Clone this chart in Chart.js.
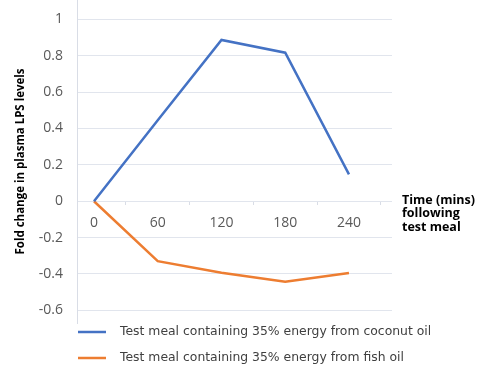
<!DOCTYPE html>
<html><head><meta charset="utf-8">
<script src="https://cdn.jsdelivr.net/npm/chart.js@4"></script>
<style>html,body{margin:0;padding:0;background:#fff}#wrap{width:483px;height:365px;position:relative}</style>
</head><body><div id="wrap"><canvas id="c" width="483" height="365"></canvas></div>
<script>
const timePoints = [0, 60, 120, 180, 240];
const coconutOil = [0, 0.445, 0.887, 0.817, 0.148];
const fishOil = [0, -0.33, -0.393, -0.443, -0.395];
const seriesLabels = ['Test meal containing 35% energy from coconut oil', 'Test meal containing 35% energy from fish oil'];
const yTicks = [-0.6, -0.4, -0.2, 0, 0.2, 0.4, 0.6, 0.8, 1];
const xTicks = [0, 60, 120, 180, 240];
const xMinorTicks = [30, 90, 150, 210, 270];
const yTitle = 'Fold change in plasma LPS levels';
const xTitleLines = ['Time (mins)', 'following', 'test meal'];

const BLUE = '#4472C4', ORANGE = '#ED7D31';
const FONT = "'Open Sans', sans-serif";

const extras = {
  id: 'extras',
  afterDraw(chart) {
    const ctx = chart.ctx, ca = chart.chartArea;
    ctx.save();
    ctx.fillStyle = '#000';
    ctx.font = "bold 12.5px " + FONT;
    ctx.textAlign = 'left'; ctx.textBaseline = 'middle';
    const y0 = chart.scales.y.getPixelForValue(0);
    xTitleLines.forEach((t, i) => ctx.fillText(t, 402, y0 - 1 + i * 13.5));
    ctx.font = "12.4px 'DejaVu Sans', sans-serif";
    ctx.fillStyle = '#404040';
    [[BLUE, 332], [ORANGE, 358]].forEach(([col, y], i) => {
      ctx.strokeStyle = col; ctx.lineWidth = 2.5;
      ctx.beginPath(); ctx.moveTo(ca.left + 1, y); ctx.lineTo(ca.left + 29, y); ctx.stroke();
      ctx.fillText(seriesLabels[i], ca.left + 43, y);
    });
    ctx.restore();
  }
};

new Chart(document.getElementById('c'), {
  type: 'line',
  data: {
    datasets: [
      { label: seriesLabels[0], data: timePoints.map((t, i) => ({x: t, y: coconutOil[i]})), borderColor: BLUE, borderWidth: 2.5, pointRadius: 0, tension: 0, fill: false },
      { label: seriesLabels[1], data: timePoints.map((t, i) => ({x: t, y: fishOil[i]})), borderColor: ORANGE, borderWidth: 2.5, pointRadius: 0, tension: 0, fill: false }
    ]
  },
  options: {
    responsive: false, animation: false,
    layout: { padding: { top: 0, right: 91, bottom: 42, left: 0 } },
    plugins: { legend: { display: false }, tooltip: { enabled: false } },
    scales: {
      x: {
        type: 'linear', min: -16, max: 280.5,
        position: { y: 0 },
        afterBuildTicks: s => { s.ticks = xTicks.concat(xMinorTicks).sort((a,b)=>a-b).map(v => ({ value: v })); },
        afterFit: s => { s.paddingLeft = 0; s.paddingRight = 0; },
        ticks: {
          autoSkip: false, maxRotation: 0, padding: 9, color: '#595959',
          font: { family: FONT, size: 14 },
          callback: v => xTicks.includes(v) ? String(v) : ''
        },
        grid: {
          drawOnChartArea: false, drawTicks: true, tickLength: 4,
          tickColor: c => (c.tick && xMinorTicks.includes(c.tick.value)) ? '#d9dde6' : 'rgba(0,0,0,0)'
        },
        border: { display: false }
      },
      y: {
        type: 'linear', min: -0.67, max: 1.107,
        afterBuildTicks: s => { s.ticks = yTicks.map(v => ({ value: v })); },
        afterFit: s => { s.width = 77; s.paddingTop = 0; s.paddingBottom = 0; },
        ticks: { color: '#595959', font: { family: FONT, size: 14 }, padding: 14, callback: v => String(Math.round(v * 10) / 10) },
        grid: { color: '#e1e5ed', lineWidth: 1, drawTicks: false },
        border: { display: true, color: '#d9dde6', width: 1 },
        title: { display: true, text: yTitle, color: '#000', font: { family: FONT, size: 11.5, weight: 'bold' }, padding: { top: 14, bottom: 0 } }
      }
    }
  },
  plugins: [extras]
});
</script></body></html>
